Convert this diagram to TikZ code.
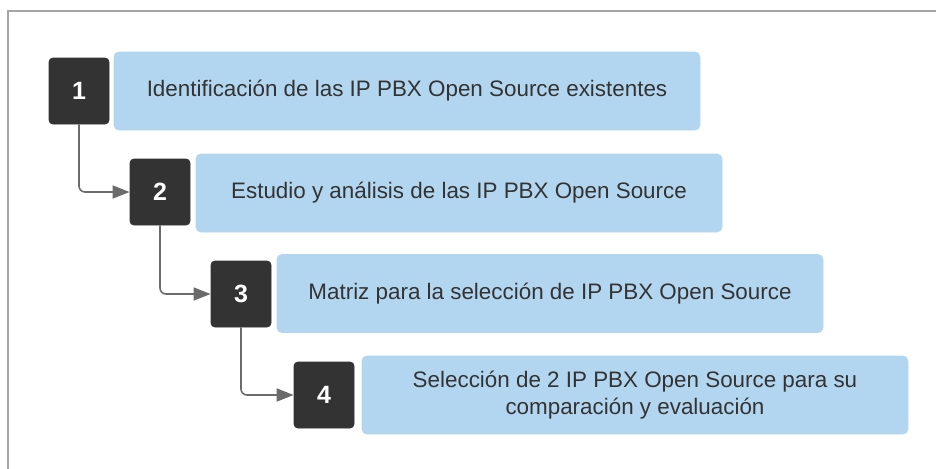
\documentclass[tikz,border=0pt]{standalone}
\usepackage{fontspec}
\setmainfont{Liberation Sans}
\usetikzlibrary{arrows.meta}
\definecolor{stepdark}{HTML}{333333}
\definecolor{stepblue}{HTML}{B3D6F0}
\definecolor{linegray}{HTML}{6B6B6B}
\definecolor{framegray}{HTML}{A6A6A6}
\begin{document}
\begin{tikzpicture}[x=0.5pt, y=-0.5pt,
  num/.style={fill=stepdark, draw=stepdark, rounded corners=2pt, minimum width=30pt, minimum height=33pt,
    text=white, font=\fontsize{12.5}{14}\selectfont\bfseries},
  desc/.style={fill=stepblue, draw=stepblue, rounded corners=2.5pt, minimum height=39pt,
    text=stepdark, align=center, font=\fontsize{11.2}{13.5}\selectfont},
  conn/.style={draw=linegray, line width=0.8pt, rounded corners=3pt, -{Triangle[length=8.5pt, width=6.5pt]}}]
\useasboundingbox (0,0) rectangle (936,468);
\draw[framegray, line width=0.8pt] (945,11) -- (8,11) -- (8,480);
\node[num] (n1) at (79,91) {1};
\node[num] (n2) at (160,192) {2};
\node[num] (n3) at (241,294) {3};
\node[num] (n4) at (324,395) {4};
\node[desc, minimum width=293pt] (b1) at (407,91) {Identificación de las IP PBX Open Source existentes};
\node[desc, minimum width=263pt] (b2) at (459,193) {Estudio y análisis de las IP PBX Open Source};
\node[desc, minimum width=273pt] (b3) at (550,293.5) {Matriz para la selección de IP PBX Open Source};
\node[desc, minimum width=273pt] (b4) at (635,395) {Selección de 2 IP PBX Open Source para su\\comparación y evaluación};
\path[conn] (n1.south) |- (n2.west);
\path[conn] (n2.south) |- (n3.west);
\path[conn] (n3.south) |- (n4.west);
\end{tikzpicture}
\end{document}
